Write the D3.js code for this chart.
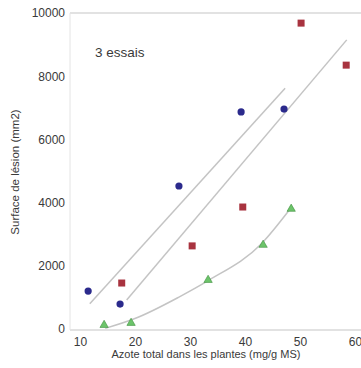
<!DOCTYPE html>
<html>
<head>
<meta charset="utf-8">
<script src="https://cdn.jsdelivr.net/npm/d3@7"></script>
<style>
  body { margin: 0; background: #fff; }
  text { font-family: "Liberation Sans", Arial, sans-serif; fill: #3a3a3a; }
</style>
</head>
<body>
<div id="chart"></div>
<script>
// essai 1 (ronds bleus)
const essai1 = [[11.5, 1200], [17.3, 790], [28, 4525], [39.3, 6870], [47.1, 6960]];
// essai 2 (carrés rouges)
const essai2 = [[17.6, 1455], [30.4, 2630], [39.6, 3860], [50.2, 9680], [58.4, 8350]];
// essai 3 (triangles verts)
const essai3 = [[14.4, 125], [19.3, 190], [33.3, 1550], [43.3, 2660], [48.4, 3800]];

// droites / courbe d'ajustement
const fit1 = [[11.8, 800], [47.3, 7620]];
const fit2 = [[18.5, 920], [58.5, 9150]];
const fit3 = [[14.6, 20], [20, 330], [28, 1010], [33.3, 1530], [43, 2700], [48.3, 3820]];

const xTicks = [10, 20, 30, 40, 50, 60];
const yTicks = [0, 2000, 4000, 6000, 8000, 10000];

const W = 361, H = 368;
const margin = { top: 13, right: 0, bottom: 38, left: 70 };

const svg = d3.select("#chart").append("svg")
    .attr("width", W)
    .attr("height", H);

const x = d3.scaleLinear().domain([8.2, 60]).range([margin.left, 355]);
const y = d3.scaleLinear().domain([0, 10000]).range([329, margin.top]);

// lignes du cadre
svg.append("line")
    .attr("x1", margin.left).attr("x2", W)
    .attr("y1", y(10000)).attr("y2", y(10000))
    .attr("stroke", "#d8d8d8").attr("stroke-width", 1.5);
svg.append("line")
    .attr("x1", margin.left).attr("x2", W)
    .attr("y1", 330).attr("y2", 330)
    .attr("stroke", "#d8d8d8").attr("stroke-width", 1.5);
svg.append("line")
    .attr("x1", margin.left).attr("x2", margin.left)
    .attr("y1", y(10000)).attr("y2", 330)
    .attr("stroke", "#e4e4e4").attr("stroke-width", 1);

// axes
svg.append("g")
    .attr("transform", `translate(${margin.left - 2},0)`)
    .call(d3.axisLeft(y).tickValues(yTicks).tickSize(0).tickFormat(d3.format("d")))
    .call(g => g.select(".domain").remove())
    .call(g => g.selectAll("text").style("font-size", "12px").attr("fill", "#3a3a3a"));

svg.append("g")
    .attr("transform", `translate(0,333)`)
    .call(d3.axisBottom(x).tickValues(xTicks).tickSize(0).tickFormat(d3.format("d")))
    .call(g => g.select(".domain").remove())
    .call(g => g.selectAll("text").style("font-size", "12px").attr("fill", "#3a3a3a").attr("dy", "0.85em"));

// titres
svg.append("text")
    .attr("transform", `translate(19,172) rotate(-90)`)
    .attr("text-anchor", "middle")
    .style("font-size", "11.5px")
    .text("Surface de lésion (mm2)");

svg.append("text")
    .attr("x", 206)
    .attr("y", 358)
    .attr("text-anchor", "middle")
    .style("font-size", "11px")
    .text("Azote total dans les plantes (mg/g MS)");

svg.append("text")
    .attr("x", 95)
    .attr("y", 57)
    .style("font-size", "13.5px")
    .text("3 essais");

// ajustements
const line = d3.line().x(d => x(d[0])).y(d => y(d[1]));
const curve = d3.line().x(d => x(d[0])).y(d => y(d[1])).curve(d3.curveMonotoneX);
[fit1, fit2].forEach(f => {
    svg.append("path").attr("d", line(f))
        .attr("fill", "none").attr("stroke", "#c4c4c4").attr("stroke-width", 1.5);
});
svg.append("path").attr("d", curve(fit3))
    .attr("fill", "none").attr("stroke", "#c4c4c4").attr("stroke-width", 1.5);

// points
svg.selectAll(".c1").data(essai1).enter().append("circle")
    .attr("cx", d => x(d[0])).attr("cy", d => y(d[1]))
    .attr("r", 3.6).attr("fill", "#2b2a8c");

svg.selectAll(".c2").data(essai2).enter().append("rect")
    .attr("x", d => x(d[0]) - 3.5).attr("y", d => y(d[1]) - 3.5)
    .attr("width", 7).attr("height", 7).attr("fill", "#a8333f");

const tri = d3.symbol().type(d3.symbolTriangle).size(30);
svg.selectAll(".c3").data(essai3).enter().append("path")
    .attr("d", tri)
    .attr("transform", d => `translate(${x(d[0])},${y(d[1])})`)
    .attr("fill", "#6cc46a").attr("stroke", "#3d8f3d").attr("stroke-width", 0.6);
</script>
</body>
</html>
